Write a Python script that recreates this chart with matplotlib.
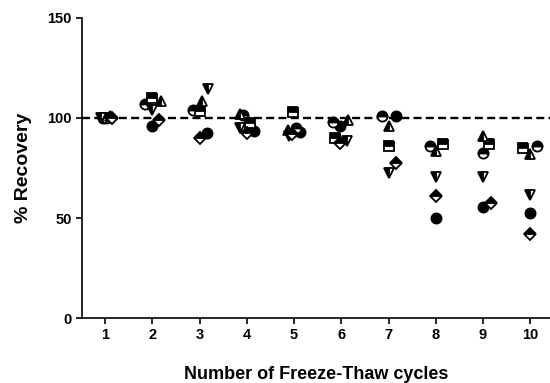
import numpy as np
import matplotlib
matplotlib.use("Agg")
import matplotlib.pyplot as plt

plt.rcParams['font.family'] = ['Liberation Sans', 'DejaVu Sans']
plt.rcParams['font.weight'] = 'bold'

cycles = [1, 2, 3, 4, 5, 6, 7, 8, 9, 10]

# % recovery per sample
rec_filled_circle = [100, 96, 92.5, 93.3, 93, 95.8, 101, 50, 55.4, 52.5]
rec_half_circle = [100, 107, 104, 101.5, 95, 98, 101, 86, 82.3, 86]
rec_square = [100, 110, 103.3, 97.5, 103, 90, 86, 87, 87, 85]
rec_tri_up = [101, 108.4, 108.4, 102, 94, 99, 96, 83.5, 91, 82]
rec_tri_down = [100, 104, 114.3, 95, 91, 88.2, 72.7, 70.5, 70.5, 61.6]
rec_diamond = [100, 99, 90, 92.5, 92, 87.4, 77.6, 61, 57.5, 42]

# horizontal scatter offsets (in x units) so overlapping points stay visible
jit_filled_circle = [0.02, -0.02, 0.15, 0.15, 0.13, -0.02, 0.15, 0, 0, 0]
jit_half_circle = [-0.04, -0.15, -0.15, -0.08, 0.04, -0.17, -0.13, -0.13, 0, 0.15]
jit_square = [0.06, 0, 0, 0.07, -0.02, -0.13, 0, 0.15, 0.13, -0.15]
jit_tri_up = [0.1, 0.17, 0.04, -0.15, -0.13, 0.15, 0, 0, 0, 0]
jit_tri_down = [-0.1, 0, 0.17, -0.15, -0.11, 0.13, 0, 0, 0, 0]
jit_diamond = [0.15, 0.13, 0, 0, -0.04, -0.02, 0.15, 0, 0.17, 0]

series = [
    (rec_filled_circle, jit_filled_circle, 'o', 'full'),
    (rec_half_circle, jit_half_circle, 'o', 'top'),
    (rec_square, jit_square, 's', 'top'),
    (rec_tri_up, jit_tri_up, '^', 'left'),
    (rec_tri_down, jit_tri_down, 'v', 'left'),
    (rec_diamond, jit_diamond, 'D', 'top'),
]

fig = plt.figure(figsize=(5.5, 3.83), dpi=100)
ax = fig.add_axes([0.1485, 0.169, 0.8515, 0.785])

ax.axhline(100, color='black', lw=1.7, ls=(0, (3.4, 1.8)), zorder=1)

x = np.array(cycles, dtype=float)
for vals, jit, mk, fs in series:
    ms = 6.3 if mk == 'D' else 7.8 if mk in ('^', 'v') else 7.3
    ax.plot(x + np.array(jit), vals, ls='none', marker=mk, ms=ms,
            fillstyle=fs, markerfacecolor='black', markerfacecoloralt='white',
            markeredgecolor='black', markeredgewidth=1.3, zorder=3)

ax.set_xlim(0.5, 10.42)
ax.set_ylim(0, 150)
ax.set_xticks(cycles)
ax.set_yticks([0, 50, 100, 150])
ax.spines['top'].set_visible(False)
ax.spines['right'].set_visible(False)
for s in ('left', 'bottom'):
    ax.spines[s].set_linewidth(1.2)
ax.tick_params(direction='out', length=4, width=1.2, labelsize=10.5, pad=3)
for lab in ax.get_xticklabels() + ax.get_yticklabels():
    lab.set_fontweight('bold')

ax.set_xlabel('Number of Freeze-Thaw cycles', fontsize=13, fontweight='bold', labelpad=17)
ax.set_ylabel('% Recovery', fontsize=14, fontweight='bold', labelpad=11)

fig.savefig('out.png', dpi=100)
